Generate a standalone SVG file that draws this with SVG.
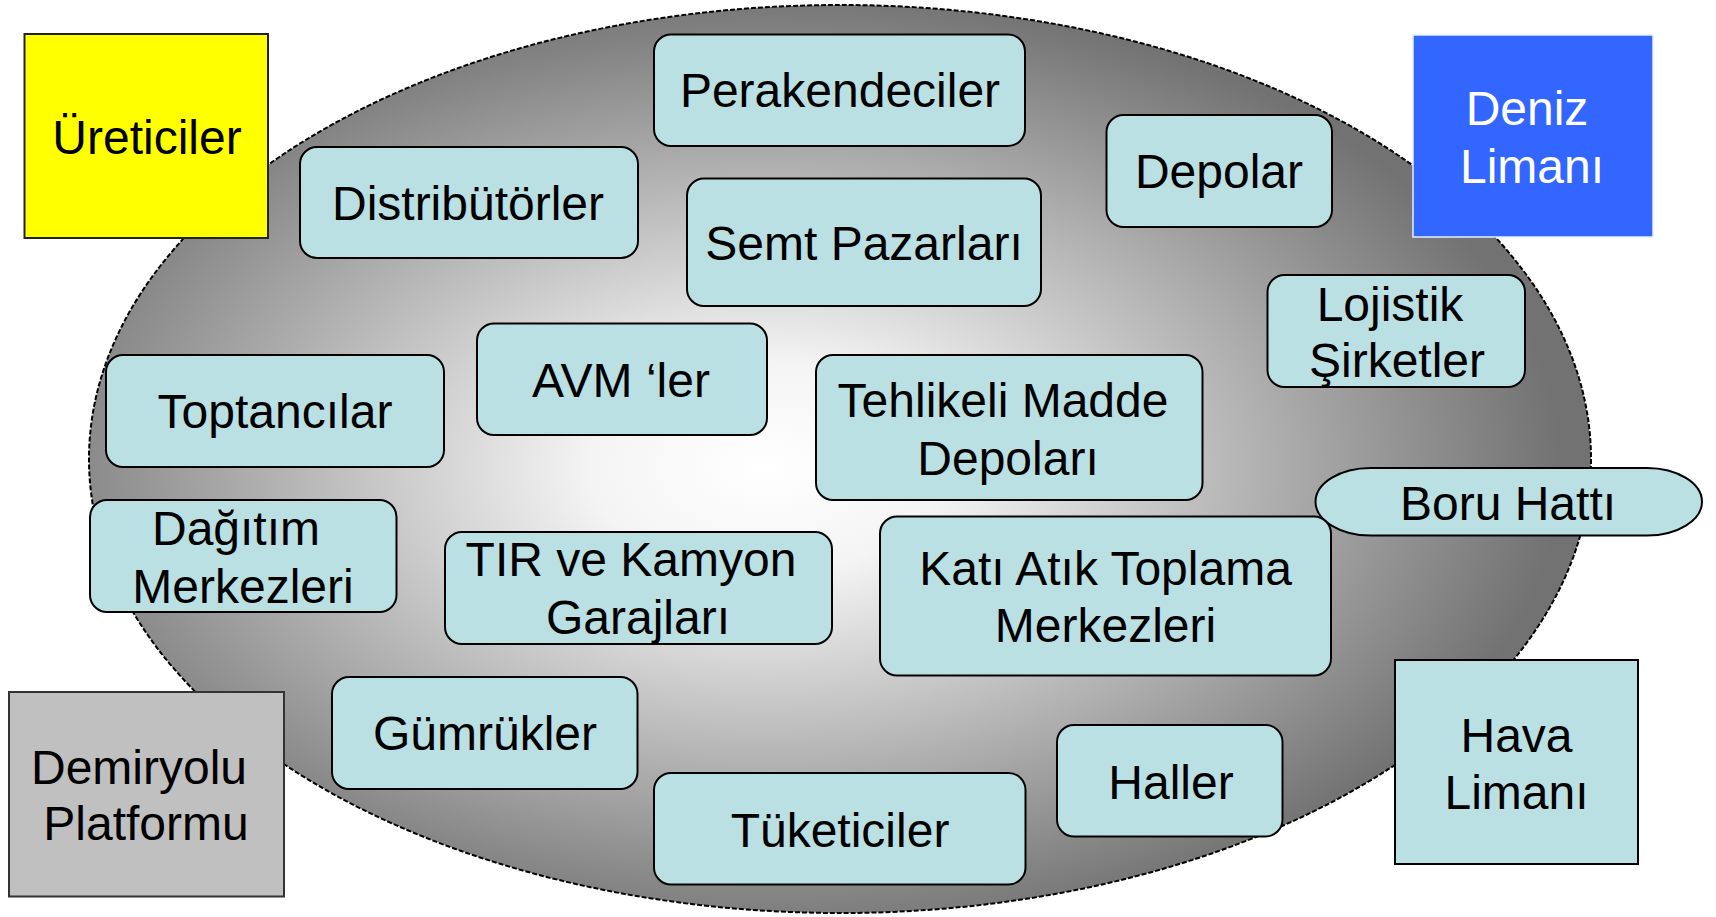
<svg xmlns="http://www.w3.org/2000/svg" width="1716" height="917" viewBox="0 0 1716 917">
<style>
.n{fill:#BBE0E3;stroke:#000;stroke-width:2}
.t{font-family:"Liberation Sans",Arial,sans-serif;font-size:48px;fill:#000;text-anchor:middle}
.w{fill:#fff}
</style>
<defs>
<radialGradient id="g" cx="0.45" cy="0.51" r="0.53" fx="0.45" fy="0.51">
<stop offset="0" stop-color="#ffffff"/>
<stop offset="0.22" stop-color="#f4f4f4"/>
<stop offset="1" stop-color="#727272"/>
</radialGradient>
</defs>
<rect width="1716" height="917" fill="#fff"/>
<g id="ellipse">
<ellipse cx="840" cy="459" rx="751" ry="454" fill="url(#g)" stroke="#000" stroke-width="2" stroke-dasharray="5 2"/>
</g>
<g id="ureticiler">
<rect x="24.5" y="34" width="243.5" height="204" fill="#FFFF00" stroke="#222" stroke-width="2"/>
<text class="t" x="147" y="154">Üreticiler</text>
</g>
<g id="perakendeciler">
<rect class="n" x="654" y="34.5" width="371" height="111.5" rx="17"/>
<text class="t" x="840" y="107">Perakendeciler</text>
</g>
<g id="distributorler">
<rect class="n" x="300" y="147" width="338" height="111" rx="17"/>
<text class="t" x="468" y="220">Distribütörler</text>
</g>
<g id="semt-pazarlari">
<rect class="n" x="687" y="178.5" width="354" height="127.5" rx="17"/>
<text class="t" x="864" y="260">Semt Pazarları</text>
</g>
<g id="depolar">
<rect class="n" x="1106.5" y="115" width="225.5" height="112" rx="17"/>
<text class="t" x="1219" y="188">Depolar</text>
</g>
<g id="deniz-limani">
<rect x="1413" y="35" width="240" height="202" fill="#3366FF" stroke="#E8EEFF" stroke-width="1.5"/>
<text class="t w" x="1527" y="125">Deniz</text>
<text class="t w" x="1532" y="183">Limanı</text>
</g>
<g id="lojistik">
<rect class="n" x="1267.5" y="275" width="257.5" height="112" rx="17"/>
<text class="t" x="1390" y="321">Lojistik</text>
<text class="t" x="1397" y="377">Şirketler</text>
</g>
<g id="toptancilar">
<rect class="n" x="106" y="355" width="338" height="112" rx="17"/>
<text class="t" x="275" y="428">Toptancılar</text>
</g>
<g id="avm">
<rect class="n" x="477" y="323.5" width="290" height="111.5" rx="17"/>
<text class="t" x="621" y="397">AVM ‘ler</text>
</g>
<g id="tehlikeli">
<rect class="n" x="816" y="355" width="386.5" height="145" rx="17"/>
<text class="t" x="1003" y="417">Tehlikeli Madde</text>
<text class="t" x="1008" y="475">Depoları</text>
</g>
<g id="boru-hatti">
<rect class="n" x="1315.5" y="468" width="386.5" height="67.5" rx="55" ry="34"/>
<text class="t" x="1508" y="520">Boru Hattı</text>
</g>
<g id="dagitim">
<rect class="n" x="90" y="500" width="306.5" height="112" rx="17"/>
<text class="t" x="236" y="545">Dağıtım</text>
<text class="t" x="243" y="603">Merkezleri</text>
</g>
<g id="tir">
<rect class="n" x="445" y="532" width="387" height="112" rx="17"/>
<text class="t" x="631" y="576">TIR ve Kamyon</text>
<text class="t" x="638" y="634">Garajları</text>
</g>
<g id="kati-atik">
<rect class="n" x="880" y="516.5" width="451" height="159" rx="17"/>
<text class="t" x="1105.5" y="585">Katı Atık Toplama</text>
<text class="t" x="1105.5" y="642">Merkezleri</text>
</g>
<g id="gumrukler">
<rect class="n" x="332" y="677" width="305.5" height="112" rx="17"/>
<text class="t" x="485" y="750">Gümrükler</text>
</g>
<g id="demiryolu">
<rect x="9" y="692" width="275" height="204.5" fill="#C0C0C0" stroke="#333" stroke-width="2"/>
<text class="t" x="139" y="784">Demiryolu</text>
<text class="t" x="146" y="840">Platformu</text>
</g>
<g id="haller">
<rect class="n" x="1057" y="725" width="225.5" height="111.5" rx="17"/>
<text class="t" x="1171" y="799">Haller</text>
</g>
<g id="tuketiciler">
<rect class="n" x="654" y="773" width="371.5" height="111.5" rx="17"/>
<text class="t" x="840" y="847">Tüketiciler</text>
</g>
<g id="hava-limani">
<rect class="n" x="1395" y="660" width="243" height="204"/>
<text class="t" x="1516.5" y="752">Hava</text>
<text class="t" x="1516.5" y="809">Limanı</text>
</g>
</svg>
